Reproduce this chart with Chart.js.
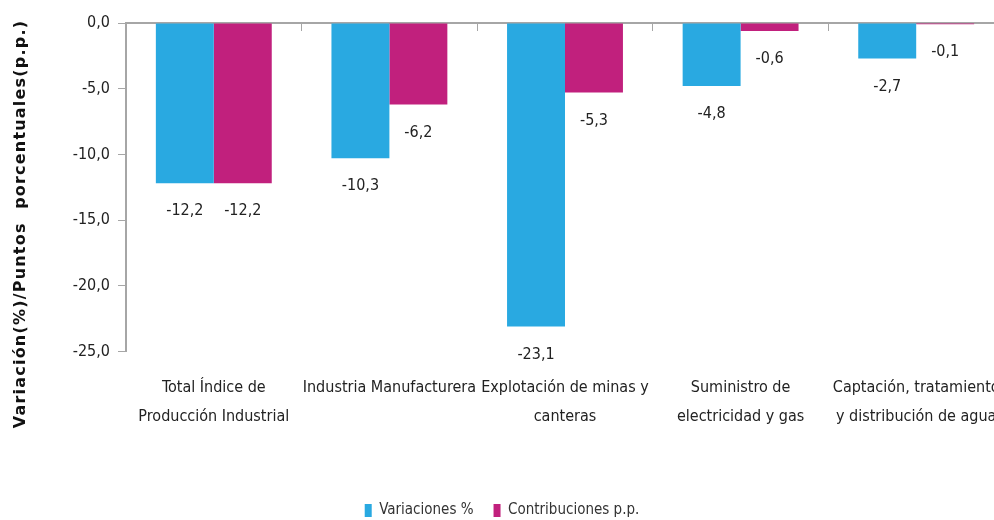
<!DOCTYPE html>
<html>
<head>
<meta charset="utf-8">
<script src="https://cdn.jsdelivr.net/npm/chart.js@4/dist/chart.umd.min.js"></script>
<style>
  html, body { margin: 0; padding: 0; background: #fff; overflow: hidden; }
  #wrap { width: 1004px; height: 520px; position: relative; }
</style>
</head>
<body>
<div id="wrap"><canvas id="chart"></canvas></div>
<script>
// data
const categorias = [
  ["Total Índice de", "Producción Industrial"],
  ["Industria Manufacturera"],
  ["Explotación de minas y", "canteras"],
  ["Suministro de", "electricidad y gas"],
  ["Captación, tratamiento", "y distribución de agua"]
];
const variaciones = [-12.2, -10.3, -23.1, -4.8, -2.7];
const contribuciones = [-12.2, -6.2, -5.3, -0.6, -0.1];
const yMin = -25;
const yMax = 0;
const yStep = 5;
const tituloY = "Variación(%)/Puntos  porcentuales(p.p.)";

const NARROW = "'Liberation Sans Narrow', 'DejaVu Sans Condensed', sans-serif";
const AZUL = "#29a9e1";
const ROSA = "#c1207d";
const GRIS = "#a6a6a6";

const fmt = v => v.toFixed(1).replace(".", ",");

// value labels under each bar end
const etiquetas = {
  id: "etiquetas",
  afterDatasetsDraw(chart) {
    const ctx = chart.ctx;
    ctx.save();
    ctx.font = "16px " + NARROW;
    ctx.fillStyle = "#222";
    ctx.textAlign = "center";
    ctx.textBaseline = "middle";
    chart.data.datasets.forEach((ds, i) => {
      chart.getDatasetMeta(i).data.forEach((bar, j) => {
        ctx.fillText(fmt(ds.data[j]), bar.x, bar.y + 28);
      });
    });
    ctx.restore();
  }
};

// rotated y title, centred on the whole figure like the original
const tituloEje = {
  id: "tituloEje",
  afterDraw(chart) {
    const ctx = chart.ctx;
    ctx.save();
    ctx.translate(21, 224);
    ctx.rotate(-Math.PI / 2);
    ctx.font = "bold 16px 'DejaVu Sans', sans-serif";
    ctx.letterSpacing = "1.2px";
    ctx.fillStyle = "#111";
    ctx.textAlign = "center";
    ctx.textBaseline = "middle";
    ctx.fillText(tituloY, 0, 0);
    ctx.restore();
  }
};

new Chart(document.getElementById("chart"), {
  type: "bar",
  data: {
    labels: categorias,
    datasets: [
      { label: "Variaciones %", data: variaciones, backgroundColor: AZUL },
      { label: "Contribuciones p.p.", data: contribuciones, backgroundColor: ROSA }
    ]
  },
  options: {
    responsive: true,
    maintainAspectRatio: false,
    animation: false,
    layout: { padding: { left: 0, right: 0, top: 23, bottom: -8 } },
    datasets: { bar: { categoryPercentage: 0.66, barPercentage: 1 } },
    plugins: {
      tooltip: { enabled: false },
      legend: {
        position: "bottom",
        labels: {
          boxWidth: 7,
          boxHeight: 13,
          padding: 20,
          color: "#333",
          font: { family: NARROW, size: 15 }
        }
      }
    },
    scales: {
      x: {
        position: "bottom",
        grid: { display: false, drawTicks: true, tickLength: 22 },
        border: { display: false },
        ticks: {
          color: "#222",
          padding: 0,
          maxRotation: 0,
          autoSkip: false,
          font: { family: NARROW, size: 16, lineHeight: 1.8 }
        },
        afterFit: s => { s.height += 52; }
      },
      x2: {
        type: "category",
        labels: categorias,
        position: { y: 0 },
        offset: true,
        grid: { drawOnChartArea: false, tickLength: 7, color: GRIS, lineWidth: 1 },
        border: { color: GRIS, width: 2 },
        ticks: { display: false },
        afterFit: s => { s.height = 0; }
      },
      y: {
        min: yMin,
        max: yMax,
        grid: { drawOnChartArea: false, tickLength: 8, color: GRIS },
        border: { color: GRIS, width: 2 },
        ticks: {
          stepSize: yStep,
          padding: 8,
          color: "#222",
          font: { family: NARROW, size: 16 },
          callback: v => fmt(v)
        },
        afterFit: s => { s.width = 126; }
      }
    }
  },
  plugins: [etiquetas, tituloEje]
});
</script>
</body>
</html>
